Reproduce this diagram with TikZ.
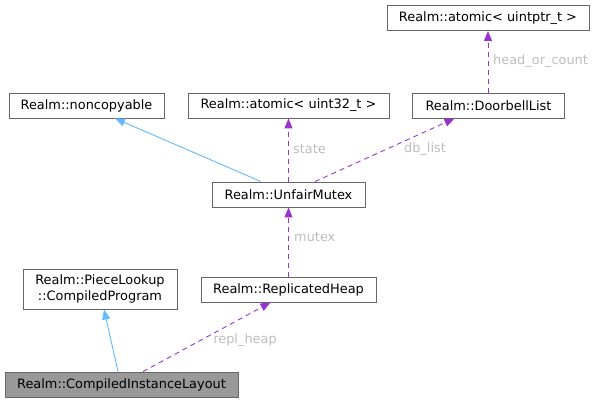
\documentclass[tikz,border=0pt]{standalone}
\usepackage{fontspec}
\setmainfont{DejaVu Sans}
\usetikzlibrary{arrows.meta}
\definecolor{edgegray}{HTML}{666666}
\definecolor{inhblue}{HTML}{63B8FF}
\definecolor{usepurple}{HTML}{9A32CD}
\definecolor{labgray}{HTML}{BDBDBD}
\definecolor{curfill}{HTML}{999999}
\begin{document}
\begin{tikzpicture}[x=1pt,y=-1pt,
  font=\fontsize{12.9}{15.5}\selectfont,
  cls/.style={draw=edgegray,line width=0.9pt,fill=white,inner sep=0pt,minimum height=25pt,align=center},
  cur/.style={cls,fill=curfill},
  inh/.style={draw=inhblue,line width=0.9pt,-{Triangle[length=10pt,width=8pt]}},
  use/.style={draw=usepurple,line width=0.9pt,dash pattern=on 5pt off 4pt,-{Triangle[length=10pt,width=8pt]}},
  lab/.style={text=labgray,inner sep=0pt}]
\useasboundingbox (0,0) rectangle (595,403);
\node[cls,minimum width=202pt] (aptr) at (488,18) {Realm::atomic< uintptr\_t >};
\node[cls,minimum width=155pt] (nonc) at (86.5,105.5) {Realm::noncopyable};
\node[cls,minimum width=201pt] (a32) at (288.5,105.5) {Realm::atomic< uint32\_t >};
\node[cls,minimum width=152pt] (dbl) at (488.5,105.5) {Realm::DoorbellList};
\node[cls,minimum width=153pt] (mutex) at (288.5,194.5) {Realm::UnfairMutex};
\node[cls,minimum width=175pt] (heap) at (288.5,289.5) {Realm::ReplicatedHeap};
\node[cls,minimum width=154pt,minimum height=40pt] (prog) at (100,289) {Realm::PieceLookup\\::CompiledProgram};
\node[cur,minimum width=233pt] (cil) at (121.5,384.5) {Realm::CompiledInstanceLayout};

\draw[inh] ([xshift=-3.5pt]cil.north) -- ([xshift=4pt]prog.south);
\draw[use] ([xshift=21.5pt]cil.north) -- ([xshift=-18pt]heap.south);
\node[lab] (l1) at (245,340) {repl\_heap};
\draw[use] (heap.north) -- (mutex.south);
\node[lab,anchor=west] (l2) at (294,237) {mutex};
\draw[inh] ([xshift=-27.5pt]mutex.north) -- ([xshift=28.5pt]nonc.south);
\draw[use] (mutex.north) -- (a32.south);
\node[lab,anchor=west] (l3) at (293,149) {state};
\draw[use] ([xshift=26.5pt]mutex.north) -- ([xshift=-34pt]dbl.south);
\node[lab] (l4) at (425,149) {db\_list};
\draw[use] ([xshift=-0.5pt]dbl.north) -- (aptr.south);
\node[lab,anchor=west] (l5) at (493,61) {head\_or\_count};
\end{tikzpicture}
\end{document}
